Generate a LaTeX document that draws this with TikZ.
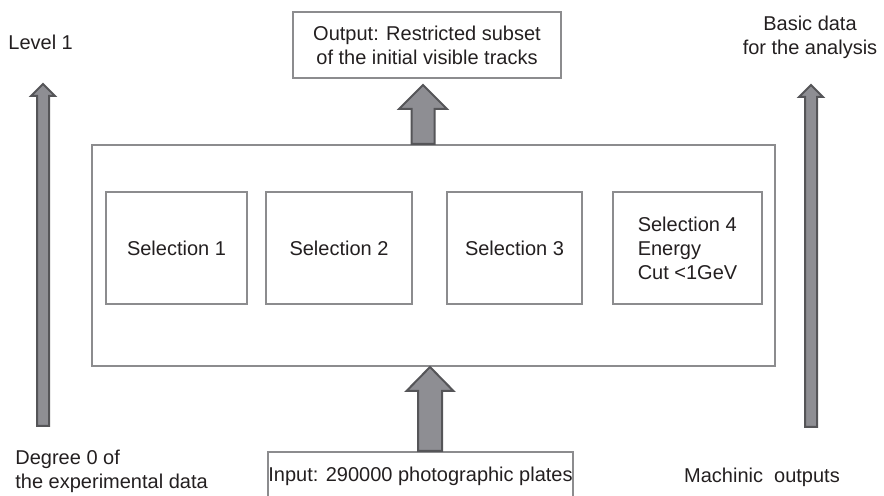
\documentclass[tikz,border=0pt]{standalone}
\usepackage{fontspec}
\setmainfont{Liberation Sans}
\usepackage{tikz}
\usetikzlibrary{positioning,calc}

\definecolor{boxgray}{RGB}{140,140,142}
\definecolor{arrowfill}{RGB}{142,142,147}
\definecolor{arrowline}{RGB}{85,85,88}
\definecolor{textgray}{RGB}{35,31,32}

% fat upward arrow: from, to, shaft half width, head half width, head length
\newcommand{\fatarrow}[5]{%
  \filldraw[fill=arrowfill,draw=arrowline,line width=1pt] let \p1=(#1), \p2=(#2) in
    (\x1-#3,\y1) -- (\x1-#3,\y2-#5) -- (\x1-#4,\y2-#5) -- (\x1,\y2)
    -- (\x1+#4,\y2-#5) -- (\x1+#3,\y2-#5) -- (\x1+#3,\y1) -- cycle;}

\begin{document}
\begin{tikzpicture}[x=0.5pt,y=-0.5pt,
    every node/.style={text=textgray,inner sep=0pt,font=\fontsize{10}{12}\selectfont},
    frame/.style={draw=boxgray,line width=1pt},
    selbox/.style={frame,minimum height=56pt}]
    \useasboundingbox (0,0) rectangle (884,496);
    \node[frame,minimum width=341.5pt,minimum height=110.5pt] (main) at (433.5,255.5) {};
    \node[selbox,minimum width=70.5pt] (sel1) at (176.5,248) {Selection 1};
    \node[selbox,minimum width=73pt] (sel2) at (339,248) {Selection 2};
    \node[selbox,minimum width=67.5pt] (sel3) at (514.5,248) {Selection 3};
    \node[selbox,minimum width=74.5pt,align=left] (sel4) at (687.5,248) {Selection 4\\Energy\\Cut <1GeV};
    \node[frame,minimum width=134pt,minimum height=33pt,align=center] (out) at (427,45)
        {Output: Restricted subset\\of the initial visible tracks};
    \node[frame,minimum width=152.5pt,minimum height=24pt] (in) at (420.5,476)
        {Input: 290000 photographic plates};
    \node[anchor=west] (level) at (8,42) {Level 1};
    \node[align=center] (basic) at (810,37) {Basic data\\for the analysis};
    \node[anchor=west,align=left] (degree) at (15,471) {Degree 0 of\\the experimental data};
    \node (mach) at (762,477) {Machinic\ \ outputs};
    % arrow ends
    \coordinate (lfoot) at (43,426);
    \coordinate (ltip) at (43,84);
    \coordinate (rfoot) at (811,427);
    \coordinate (rtip) at (811,85);
    \coordinate (outfoot) at ([xshift=-5.25pt]main.north);
    \coordinate (infoot) at ([xshift=4.75pt]in.north);
    \fatarrow{lfoot}{ltip}{3pt}{6pt}{6pt}
    \fatarrow{rfoot}{rtip}{3pt}{6pt}{6pt}
    \fatarrow{outfoot}{[yshift=-3pt]out.south}{5.75pt}{12pt}{12pt}
    \fatarrow{infoot}{main.south}{6pt}{11.75pt}{12pt}
\end{tikzpicture}
\end{document}
